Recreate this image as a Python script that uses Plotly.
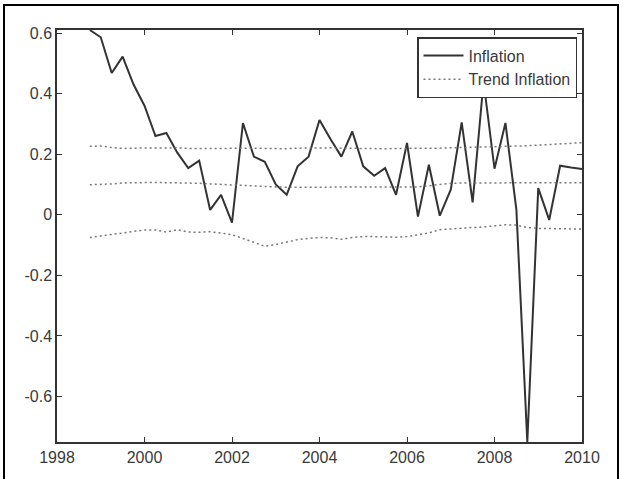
import plotly.graph_objects as go

quarters = [1998.75 + 0.25 * i for i in range(46)]

inflation = [0.61, 0.586, 0.468, 0.522, 0.43, 0.36, 0.26, 0.27, 0.205, 0.154,
             0.179, 0.016, 0.066, -0.026, 0.303, 0.192, 0.175, 0.10, 0.066, 0.16,
             0.192, 0.313, 0.25, 0.192, 0.275, 0.16, 0.129, 0.154, 0.066, 0.237,
             -0.006, 0.165, -0.003, 0.083, 0.305, 0.041, 0.44, 0.152, 0.303, 0.017,
             -0.75, 0.088, -0.017, 0.162, 0.156, 0.151]

trend_upper = [0.226, 0.227, 0.222, 0.219, 0.22, 0.22, 0.221, 0.222, 0.221, 0.219,
               0.218, 0.219, 0.219, 0.22, 0.221, 0.22, 0.219, 0.218, 0.218, 0.22,
               0.221, 0.222, 0.221, 0.22, 0.219, 0.219, 0.218, 0.218, 0.219, 0.219,
               0.218, 0.219, 0.22, 0.221, 0.222, 0.222, 0.223, 0.223, 0.224, 0.226,
               0.228, 0.23, 0.232, 0.234, 0.236, 0.238]

trend_mid = [0.099, 0.10, 0.102, 0.105, 0.106, 0.107, 0.107, 0.106, 0.106, 0.105,
             0.104, 0.102, 0.10, 0.099, 0.098, 0.095, 0.093, 0.092, 0.091, 0.091,
             0.091, 0.091, 0.091, 0.091, 0.091, 0.091, 0.091, 0.091, 0.091, 0.091,
             0.092, 0.096, 0.101, 0.104, 0.105, 0.105, 0.105, 0.105, 0.105, 0.105,
             0.105, 0.105, 0.106, 0.106, 0.106, 0.106]

trend_lower = [-0.075, -0.07, -0.064, -0.059, -0.054, -0.05, -0.05, -0.057, -0.049, -0.057,
               -0.058, -0.056, -0.06, -0.066, -0.078, -0.092, -0.104, -0.098, -0.09, -0.082,
               -0.078, -0.075, -0.076, -0.081, -0.075, -0.072, -0.072, -0.074, -0.074, -0.072,
               -0.067, -0.06, -0.049, -0.046, -0.045, -0.042, -0.04, -0.037, -0.033, -0.034,
               -0.042, -0.045, -0.046, -0.047, -0.047, -0.047]

x_ticks = [1998, 2000, 2002, 2004, 2006, 2008, 2010]
y_ticks = [-0.6, -0.4, -0.2, 0, 0.2, 0.4, 0.6]
y_tick_labels = ["-0.6", "-0.4", "-0.2", "0", "0.2", "0.4", "0.6"]

FONT = "Liberation Sans, Arial, sans-serif"
FS = 16
TXT = "#3a3a3a"
DOT = "2px,3px"

fig = go.Figure()
fig.add_trace(go.Scatter(x=quarters, y=inflation, mode="lines", name="Inflation",
                         line=dict(color="#333333", width=2)))
fig.add_trace(go.Scatter(x=quarters, y=trend_upper, mode="lines", name="Trend Inflation",
                         line=dict(color="#777777", width=1.5, dash=DOT)))
fig.add_trace(go.Scatter(x=quarters, y=trend_mid, mode="lines", showlegend=False,
                         line=dict(color="#777777", width=1.5, dash=DOT)))
fig.add_trace(go.Scatter(x=quarters, y=trend_lower, mode="lines", showlegend=False,
                         line=dict(color="#777777", width=1.5, dash=DOT)))

L, R, T, B = 57, 41, 30, 37
W, H = 623, 479
pw, ph = W - L - R, H - T - B

def px_to_paper_x(px):
    return (px - L) / pw

def px_to_paper_y(py):
    return 1 - (py - T) / ph

fig.update_layout(
    width=W, height=H,
    margin=dict(l=L, r=R, t=T, b=B, autoexpand=False),
    paper_bgcolor="white", plot_bgcolor="white",
    font=dict(family=FONT, size=FS, color=TXT),
    showlegend=True,
    legend=dict(x=px_to_paper_x(577), y=px_to_paper_y(37), xanchor="right", yanchor="top",
                bgcolor="white", bordercolor="#333333", borderwidth=1.5,
                font=dict(family=FONT, size=FS, color=TXT),
                tracegroupgap=0, itemwidth=40),
    xaxis=dict(range=[1998, 2010], tickvals=x_ticks, ticks="inside", ticklen=5,
               tickwidth=1.2, tickcolor="#333333", showline=True, linecolor="#333333",
               linewidth=1.5, mirror="ticks", showgrid=False, zeroline=False,
               automargin=False,
               tickfont=dict(family=FONT, size=FS, color=TXT)),
    yaxis=dict(range=[-0.75, 0.61], tickvals=y_ticks, ticktext=y_tick_labels,
               ticks="inside", ticklen=5, tickwidth=1.2, tickcolor="#333333",
               showline=True, linecolor="#333333", linewidth=1.5, mirror="ticks",
               showgrid=False, zeroline=False, automargin=False,
               tickfont=dict(family=FONT, size=FS, color=TXT)),
    shapes=[dict(type="rect", xref="paper", yref="paper",
                 x0=px_to_paper_x(4), x1=px_to_paper_x(618),
                 y0=px_to_paper_y(482), y1=px_to_paper_y(5),
                 line=dict(color="black", width=2), fillcolor="rgba(0,0,0,0)",
                 layer="below")],
)

fig.write_html("out.html",
               config={"displayModeBar": False},
               post_script="document.body.style.margin='0';document.body.style.padding='0';")
